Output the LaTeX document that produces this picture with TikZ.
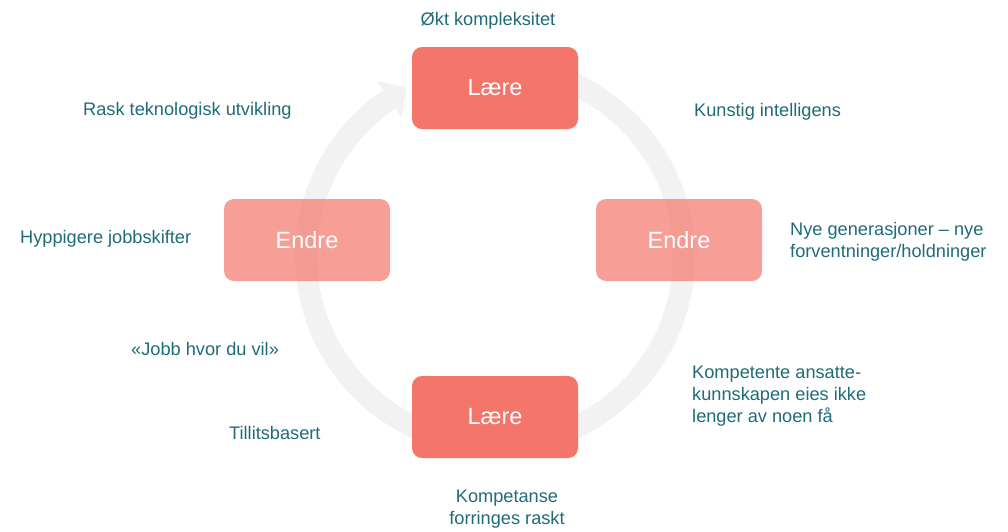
\documentclass[tikz,border=0pt]{standalone}
\usepackage{fontspec}
\setmainfont{Liberation Sans}
\usetikzlibrary{calc}
\definecolor{laere}{HTML}{F4756A}
\definecolor{ringgray}{HTML}{F2F2F2}
\definecolor{txtteal}{HTML}{1F6B77}
\begin{document}
\begin{tikzpicture}[x=1pt,y=1pt,
  box/.style={rounded corners=10pt, minimum width=166pt, minimum height=82pt, inner sep=0pt, text=white, font=\fontsize{23.5}{27}\selectfont},
  laerebox/.style={box, fill=laere},
  endrebox/.style={box, fill=laere, fill opacity=0.7, text opacity=1},
  lbl/.style={text=txtteal, font=\fontsize{18.2}{22}\selectfont, inner sep=0pt},
]
\useasboundingbox (0,0) rectangle (1008,-531);
\coordinate (C) at (495,-256);
% circular arrow
\draw[ringgray, line width=22pt] ($(C)+(90:189)$) arc[start angle=90, end angle=-236, radius=189];
\fill[ringgray] ($(C)+(124:211)$) -- ($(C)+(124:189)+(34:21)$) -- ($(C)+(124:167)$) -- cycle;
% boxes
\node[laerebox] (top) at (495,-88) {Lære};
\node[laerebox] (bot) at (495,-417) {Lære};
\node[endrebox] (left) at (307,-240) {Endre};
\node[endrebox] (right) at (679,-240) {Endre};
% labels
\node[lbl, anchor=base] (t1) at (488,-25) {Økt kompleksitet};
\node[lbl, anchor=base west] (t2) at (83,-115) {Rask teknologisk utvikling};
\node[lbl, anchor=base west] (t3) at (694,-116) {Kunstig intelligens};
\node[lbl, anchor=base west] (t4) at (20,-243) {Hyppigere jobbskifter};
\node[lbl, anchor=north west, align=left] (t5) at (790,-222) {Nye generasjoner – nye\\forventninger/holdninger};
\node[lbl, anchor=base west] (t6) at (131,-355) {«Jobb hvor du vil»};
\node[lbl, anchor=north west, align=left] (t7) at (692,-366) {Kompetente ansatte-\\kunnskapen eies ikke\\lenger av noen få};
\node[lbl, anchor=base west] (t8) at (229,-439) {Tillitsbasert};
\node[lbl, anchor=north, align=center] (t9) at (507,-490) {Kompetanse\\forringes raskt};
\end{tikzpicture}
\end{document}
